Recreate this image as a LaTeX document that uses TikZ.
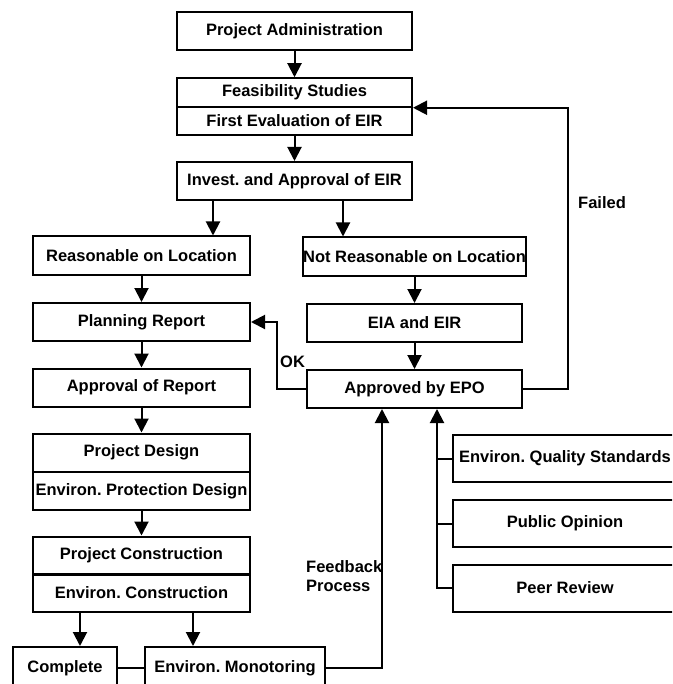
\documentclass[tikz,border=0pt]{standalone}
\usepackage{fontspec}
\setmainfont{Liberation Sans}
\usetikzlibrary{arrows.meta}
\frenchspacing

\tikzset{
  box/.style={draw,line width=2pt,inner sep=0pt,minimum height=38pt,
    font=\bfseries\fontsize{16.5}{18}\selectfont},
  topbox/.style={box,minimum width=235pt},
  leftbox/.style={box,minimum width=217pt},
  rightbox/.style={box,minimum width=215pt},
  sidebox/.style={box,minimum width=224pt,minimum height=47pt},
  lbl/.style={font=\bfseries\fontsize{16.5}{19}\selectfont,inner sep=1pt},
  arr/.style={draw,line width=2pt,-{Triangle[length=14pt,width=14pt]}},
  ln/.style={draw,line width=2pt}
}

\begin{document}
\begin{tikzpicture}[x=1pt,y=-1pt]
      \clip (0,0) rectangle (672,684);
      \node[topbox] (admin) at (294.5,31) {Project Administration};
      \node[topbox,minimum height=28.5pt] (feas) at (294.5,92.5) {Feasibility Studies};
      \node[topbox,minimum height=28.5pt] (eval) at (294.5,121) {First Evaluation of EIR};
      \node[topbox] (invest) at (294.5,181) {Invest. and Approval of EIR};
      \foreach \name/\y/\txt in {reason/255.5/Reasonable on Location, planning/322/Planning Report,
        approval/387.5/Approval of Report, design/452.5/Project Design,
        protect/491/Environ. Protection Design, construct/555.5/Project Construction,
        envcon/592.5/Environ. Construction}
      \node[leftbox] (\name) at (141.5,\y) {\txt};
      \foreach \name/\y/\txt in {notreason/256.5/Not Reasonable on Location, eia/323/EIA and EIR,
        epo/389/Approved by EPO}
      \node[rightbox] (\name) at (414.5,\y) {\txt};
      \foreach \name/\y/\txt in {standards/458.5/Environ. Quality Standards, public/523.5/Public Opinion,
        peer/588/Peer Review}
      \node[sidebox] (\name) at (565,\y) {\txt};
      \node[box,minimum width=104pt,minimum height=42pt] (complete) at (65,668) {Complete};
      \node[box,minimum width=180pt,minimum height=42pt] (monitor) at (235,668) {Environ. Monotoring};

      \node[lbl,anchor=west] (ok) at (279,362) {OK};
      \node[lbl,anchor=west] (failed) at (577,203) {Failed};
      \node[lbl,anchor=west,align=left] (feedback) at (305,576) {Feedback\\Process};

      \foreach \source/ \dest in {admin/feas, eval/invest, reason/planning, planning/approval,
        approval/design, protect/construct, notreason/eia, eia/epo}
      \path[arr] (\source) -- (\dest);
      \path[arr] ([xshift=-81.5pt]invest.south) -- ([xshift=-81.5pt]invest.south |- reason.north);
      \path[arr] ([xshift=48.5pt]invest.south) -- ([xshift=48.5pt]invest.south |- notreason.north);
      \path[arr] ([xshift=-61.5pt]envcon.south) -- ([xshift=-61.5pt]envcon.south |- complete.north);
      \path[arr] ([xshift=51.5pt]envcon.south) -- ([xshift=51.5pt]envcon.south |- monitor.north);
      \path[ln] (complete) -- (monitor);
      \path[arr] (monitor.east) -| ([xshift=-32.5pt]epo.south);
      \path[arr] (epo.east) -- ++(45,0) |- (feas.south east);
      \path[arr] (epo.west) -- ++(-29,0) |- (planning.east);
      \path[arr] (peer.west) -| ([xshift=22.5pt]epo.south);
      \path[ln] (standards.west) -- ++(-16,0);
      \path[ln] (public.west) -- ++(-16,0);
    \end{tikzpicture}
\end{document}
